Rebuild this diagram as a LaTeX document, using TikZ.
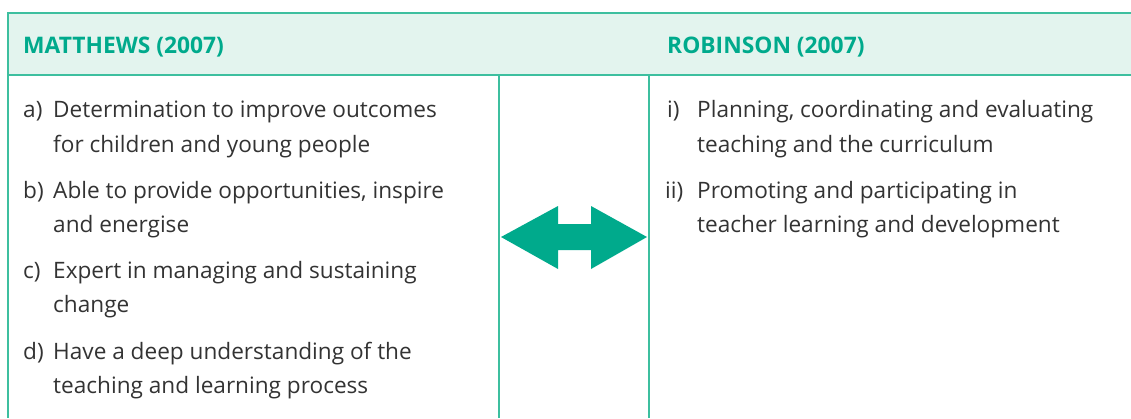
\documentclass[tikz,border=0pt]{standalone}
\usepackage{fontspec}
\setmainfont{Open Sans}
\definecolor{teal1}{HTML}{00AA8C}
\definecolor{rule1}{HTML}{3DBF9F}
\definecolor{headbg}{HTML}{E3F4EE}
\definecolor{txt}{HTML}{333333}
\tikzset{
  body/.style={anchor=base west, inner sep=0pt, text=txt, font=\fontsize{22.6}{27}\selectfont},
  head/.style={anchor=base west, inner sep=0pt, text=teal1, font=\fontsize{22.8}{27}\selectfont\bfseries},
  rulel/.style={draw=rule1, line width=1.6pt}
}
\begin{document}
\begin{tikzpicture}[x=1pt,y=-1pt]
\useasboundingbox (0,0) rectangle (1131,418);
\fill[headbg] (8,13) rectangle (1131,75);
\draw[rulel] (1131,13) -- (8,13) -- (8,418);
\draw[rulel] (8,75) -- (1131,75);
\draw[rulel] (499,75) -- (499,418);
\draw[rulel] (649,75) -- (649,418);
\node[head] (h1) at (23,53) {MATTHEWS (2007)};
\node[head] (h2) at (667,53) {ROBINSON (2007)};
% left column
\node[body] (la) at (23,117) {a)};
\node[body] (a1) at (53,117) {Determination to improve outcomes};
\node[body] (a2) at (53,152) {for children and young people};
\node[body] (lb) at (23,198) {b)};
\node[body] (b1) at (53,198) {Able to provide opportunities, inspire};
\node[body] (b2) at (53,232) {and energise};
\node[body] (lc) at (23,278) {c)};
\node[body] (c1) at (53,278) {Expert in managing and sustaining};
\node[body] (c2) at (53,312) {change};
\node[body] (ld) at (23,359) {d)};
\node[body] (d1) at (53,359) {Have a deep understanding of the};
\node[body] (d2) at (53,393) {teaching and learning process};
% right column
\node[body] (li) at (667,117) {i)};
\node[body] (i1) at (697,117) {Planning, coordinating and evaluating};
\node[body] (i2) at (697,152) {teaching and the curriculum};
\node[body] (lii) at (665,198) {ii)};
\node[body] (ii1) at (697,198) {Promoting and participating in};
\node[body] (ii2) at (697,232) {teacher learning and development};
% double arrow
\fill[teal1] (501,237) -- (558,206) -- (558,224) -- (591,224) -- (591,206) -- (647,237)
  -- (591,269) -- (591,250) -- (558,250) -- (558,269) -- cycle;
\end{tikzpicture}
\end{document}
